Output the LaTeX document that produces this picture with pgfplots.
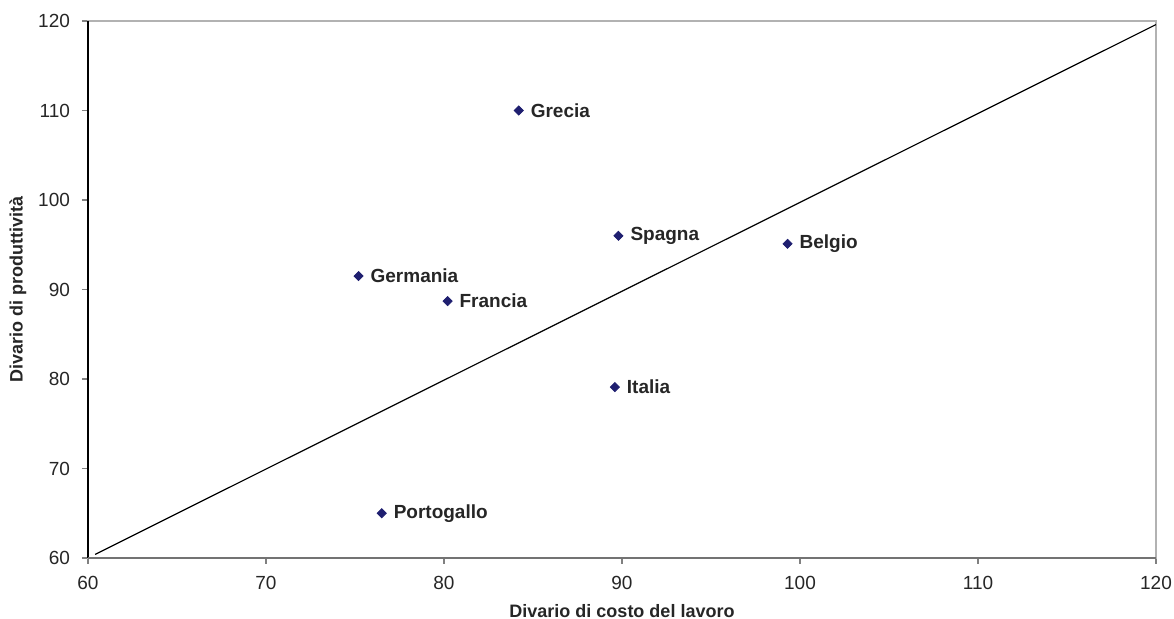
\documentclass[border=0pt]{standalone}
\usepackage{pgfplots}
\pgfplotsset{compat=1.18}
\usepackage{fontspec}
\setmainfont{Liberation Sans}
\definecolor{mk}{HTML}{1F1F70}
\begin{document}
\begin{tikzpicture}
\begin{axis}[
  at={(0,0)}, anchor=origin,
  scale only axis, width=534pt, height=268.5pt,
  xmin=60, xmax=120, ymin=60, ymax=120,
  xtick={60,70,...,120}, ytick={60,70,...,120},
  tick align=outside, major tick length=3pt,
  xtick pos=bottom, ytick pos=left,
  tick style={draw=gray, line width=0.6pt},
  axis line style={draw=gray!60, line width=0.7pt},
  ticklabel style={font=\fontsize{9.5}{11}\selectfont, text=black!85},
  /pgf/number format/assume math mode=true,
  xticklabel style={yshift=-2.5pt},
  yticklabel style={xshift=-2.5pt},
  xlabel={\textbf{Divario di costo del lavoro}},
  ylabel={\textbf{Divario di produttività}},
  label style={font=\fontsize{9}{11}\selectfont, text=black!85},
  xlabel style={at={(0.5,0)}, anchor=center, yshift=-26.5pt},
  ylabel style={at={(0,0.5)}, anchor=center, yshift=35pt},
  clip=false,
]
\draw[black, line width=0.7pt] (axis cs:60,60) -- (axis cs:60,120);
\draw[gray!90!black, line width=0.8pt] (axis cs:60,60) -- (axis cs:120,60);
\addplot[black, line width=0.6pt] coordinates {(60.4,60.4) (120,119.6)};
\addplot[only marks, mark=square*, mark size=1.6pt, mk, mark options={fill=mk, draw=mk, rotate=45},
  nodes near coords, point meta=explicit symbolic,
  every node near coord/.style={anchor=west, xshift=2.5pt, font=\bfseries\fontsize{9.5}{11}\selectfont, text=black!85}]
  table[meta=label] {
x y label
84.2 110.0 Grecia
89.8 96.0 Spagna
99.3 95.1 Belgio
75.2 91.5 Germania
80.2 88.7 Francia
89.6 79.1 Italia
76.5 65.0 Portogallo
};
\end{axis}
\pgfresetboundingbox
\path (-44pt,-30.5pt) rectangle (543pt,279pt);
\end{tikzpicture}
\end{document}
